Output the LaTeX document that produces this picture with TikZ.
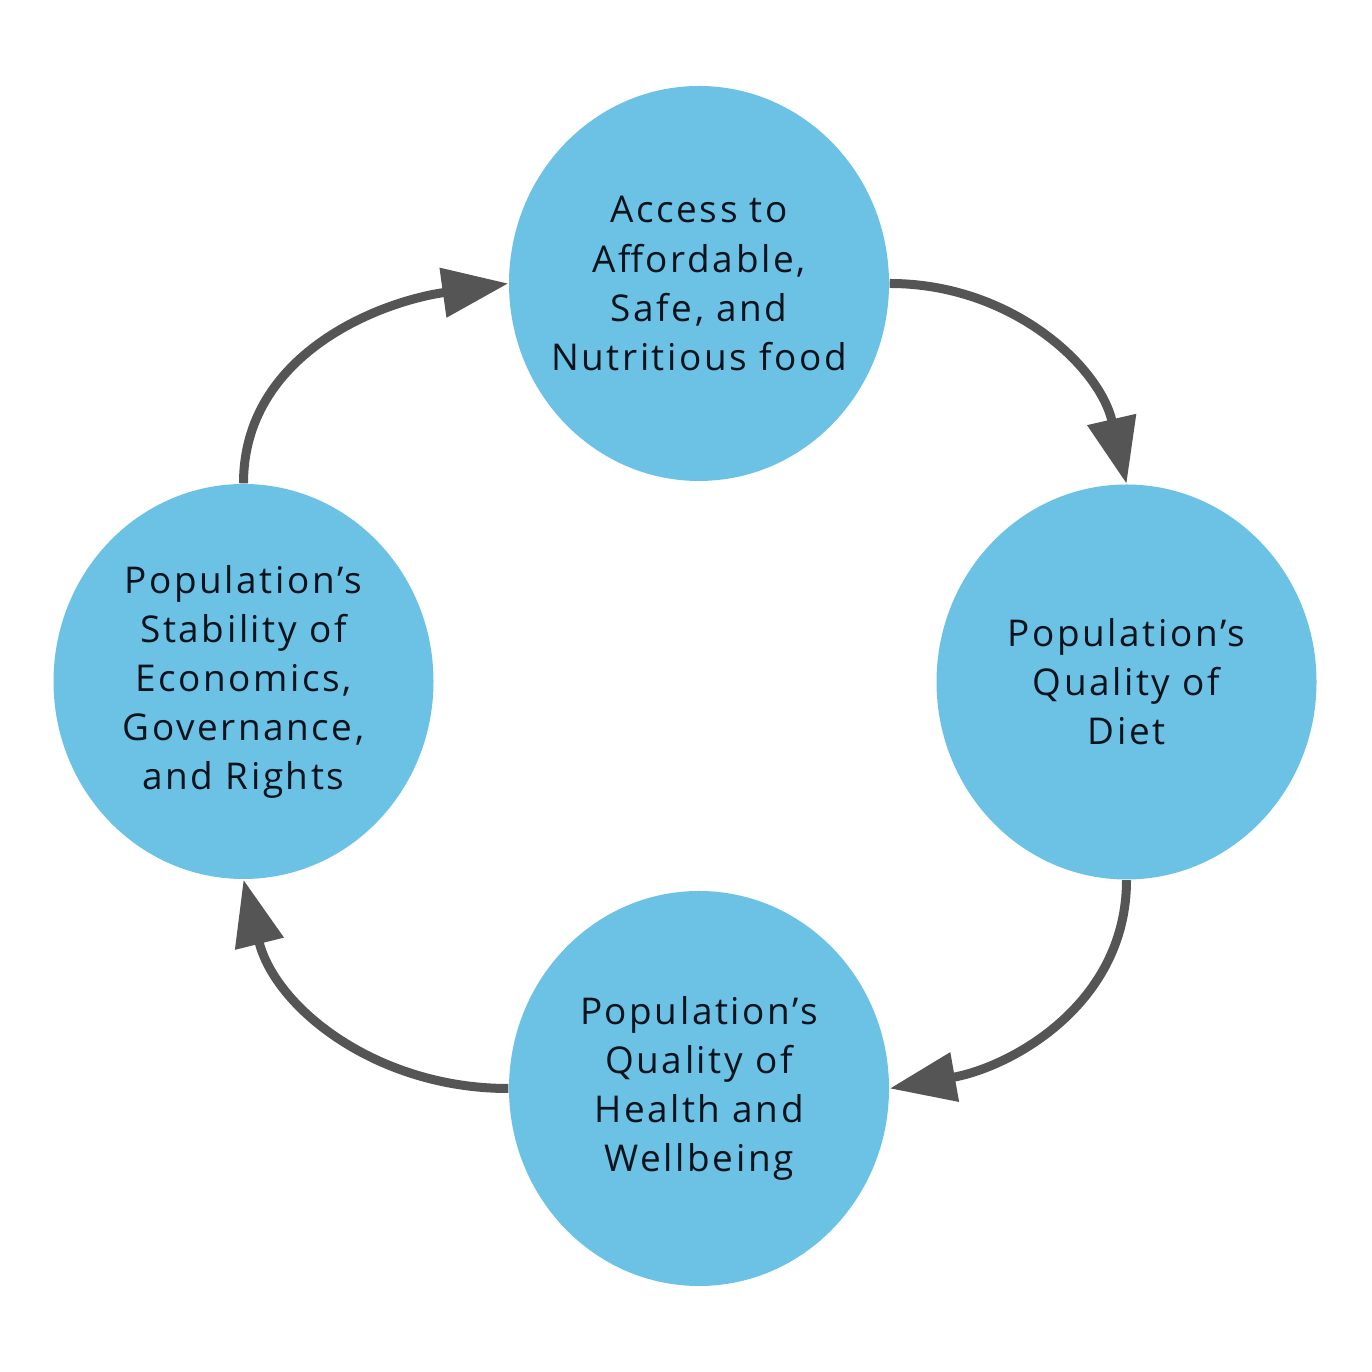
\documentclass[tikz,border=0pt]{standalone}
\usepackage{fontspec}
\setmainfont{Open Sans}[LetterSpace=7]
\usetikzlibrary{shapes.geometric,arrows.meta}
\definecolor{circfill}{HTML}{6BC2E5}
\definecolor{arrgray}{HTML}{555555}
\definecolor{txt}{HTML}{0A121C}
\begin{document}
\begin{tikzpicture}[
  bubble/.style={ellipse, fill=circfill, draw=none, inner sep=0pt,
    minimum width=3.80cm, minimum height=3.95cm},
  label text/.style={align=center, inner sep=0pt, text=txt,
    font=\fontsize{10.5}{13.95}\selectfont},
  arr/.style={draw=arrgray, line width=0.09cm,
    -{Triangle[length=6.6mm,width=4.8mm]}}
]
\useasboundingbox (0,0) rectangle (13.72,13.72);
\node[bubble] (top) at (6.99,10.885) {};
\node[bubble] (right) at (11.265,6.90) {};
\node[bubble] (bottom) at (6.99,2.835) {};
\node[bubble] (left) at (2.435,6.905) {};
\node[label text] (topT) at (top.center) {Access to\\Affordable,\\Safe, and\\Nutritious food};
\node[label text] (rightT) at (right.center) {Population’s\\Quality of\\Diet};
\node[label text] (bottomT) at (bottom.center) {Population’s\\Quality of\\Health and\\Wellbeing};
\node[label text] (leftT) at (left.center) {Population’s\\Stability of\\Economics,\\Governance,\\and Rights};
\draw[arr] (top.east) to[out=0,in=103] (right.north);
\draw[arr] (right.south) to[out=-90,in=10] (bottom.east);
\draw[arr] (bottom.west) to[out=180,in=-76] (left.south);
\draw[arr] (left.north) to[out=90,in=188] (top.west);
\end{tikzpicture}
\end{document}
